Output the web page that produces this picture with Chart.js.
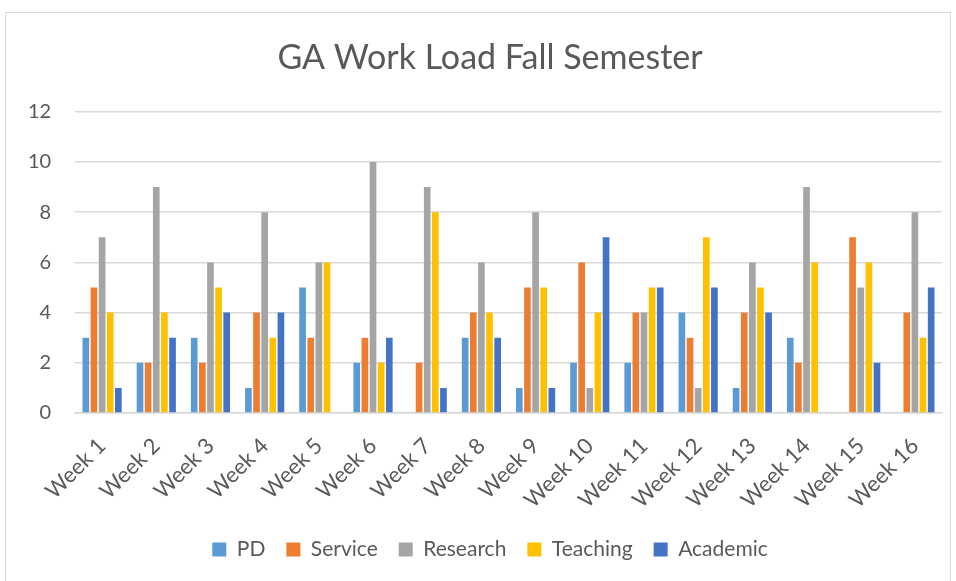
<!DOCTYPE html>
<html>
<head>
<meta charset="utf-8">
<script src="https://cdn.jsdelivr.net/npm/chart.js@4"></script>
<style>
  html, body { margin: 0; padding: 0; background: #fff; }
  #wrap { position: absolute; left: 0; top: 0; width: 956px; height: 581px; }
  #frame { position: absolute; left: 5px; top: 12px; width: 946px; height: 580px; border: 1px solid #D9D9D9; box-sizing: border-box; }
  canvas { position: absolute; left: 0; top: 0; }
</style>
</head>
<body>
<div id="wrap">
  <div id="frame"></div>
  <canvas id="c" width="956" height="581"></canvas>
</div>
<script>
const weeks = ["Week 1","Week 2","Week 3","Week 4","Week 5","Week 6","Week 7","Week 8","Week 9","Week 10","Week 11","Week 12","Week 13","Week 14","Week 15","Week 16"];
const pd       = [3,2,3,1,5,2,0,3,1,2,2,4,1,3,0,0];
const service  = [5,2,2,4,3,3,2,4,5,6,4,3,4,2,7,4];
const research = [7,9,6,8,6,10,9,6,8,1,4,1,6,9,5,8];
const teaching = [4,4,5,3,6,2,8,4,5,4,5,7,5,6,6,3];
const academic = [1,3,4,4,0,3,1,3,1,7,5,5,4,0,2,5];
const yTicks = [0,2,4,6,8,10,12];

const FONT = "Lato, 'Open Sans', sans-serif";
const TXT = "#595959";

function ds(label, data, color) {
  return { label, data, backgroundColor: color, borderWidth: 0,
           categoryPercentage: 0.75, barPercentage: 0.82 };
}

new Chart(document.getElementById("c"), {
  type: "bar",
  data: {
    labels: weeks,
    datasets: [
      ds("PD", pd, "#5B9BD5"),
      ds("Service", service, "#ED7D31"),
      ds("Research", research, "#A5A5A5"),
      ds("Teaching", teaching, "#FFC000"),
      ds("Academic", academic, "#4472C4")
    ]
  },
  options: {
    responsive: false,
    animation: false,
    layout: { padding: { left: 38, right: 14, top: 0, bottom: 11 } },
    plugins: {
      title: {
        display: true,
        text: "GA Work Load Fall Semester",
        color: TXT,
        font: { family: FONT, size: 34, weight: "normal" },
        padding: { top: 38, bottom: 33 }
      },
      legend: {
        position: "bottom",
        labels: {
          color: TXT,
          font: { family: FONT, size: 21 },
          boxWidth: 14, boxHeight: 14,
          padding: 21
        }
      },
      tooltip: { enabled: false }
    },
    scales: {
      x: {
        afterFit: (axis) => { axis.height = 105; },
        grid: { display: false },
        border: { color: "#D9D9D9", width: 1.5 },
        ticks: {
          color: TXT,
          font: { family: FONT, size: 22 },
          maxRotation: 45, minRotation: 45,
          padding: 12
        }
      },
      y: {
        min: 0, max: 12,
        afterBuildTicks: (axis) => { axis.ticks = yTicks.map(v => ({ value: v })); },
        afterFit: (axis) => { axis.width = 37; },
        grid: { color: "#D9D9D9", lineWidth: 1.5, drawTicks: false },
        border: { display: false },
        ticks: {
          color: TXT,
          font: { family: FONT, size: 20 },
          mirror: true,
          crossAlign: "far",
          padding: -47
        }
      }
    }
  }
});
</script>
</body>
</html>
